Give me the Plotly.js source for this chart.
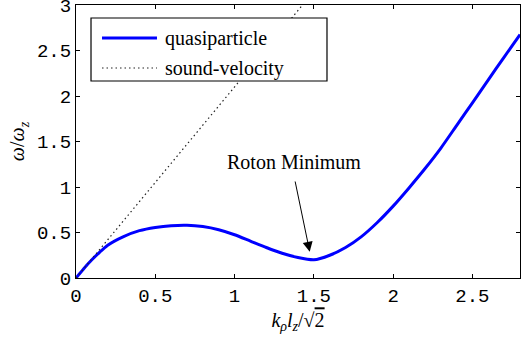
<!DOCTYPE html>
<html>
<head>
<meta charset="utf-8">
<script src="https://cdn.plot.ly/plotly-3.0.1.min.js"></script>
<style>html,body{margin:0;padding:0;background:#fff;} #chart{width:521px;height:339px;}</style>
</head>
<body>
<div id="chart"></div>
<script>
// Quasiparticle dispersion
const kValues = [0, 0.05, 0.1, 0.15, 0.2, 0.3, 0.4, 0.5, 0.6, 0.7, 0.8, 0.9, 1.0, 1.1, 1.2, 1.3, 1.4, 1.5, 1.6, 1.7, 1.8, 1.9, 2.0, 2.1, 2.2, 2.3, 2.4, 2.5, 2.6, 2.7, 2.8];
const omegaValues = [0, 0.105, 0.2, 0.285, 0.36, 0.455, 0.52, 0.555, 0.575, 0.58, 0.565, 0.53, 0.475, 0.405, 0.335, 0.272, 0.225, 0.2, 0.25, 0.335, 0.455, 0.61, 0.79, 0.99, 1.2, 1.425, 1.675, 1.925, 2.178, 2.428, 2.675];
// Sound-velocity line
const soundK = [0, 1.5];
const soundOmega = [0, 3.15];
// Series names (legend)
const seriesNames = ['quasiparticle', 'sound-velocity'];
// Tick labels
const xTicks = [0, 0.5, 1, 1.5, 2, 2.5];
const xTickText = ['0', '0.5', '1', '1.5', '2', '2.5'];
const yTicks = [0, 0.5, 1, 1.5, 2, 2.5, 3];
const yTickText = ['0', '0.5', '1', '1.5', '2', '2.5', '3'];
// Annotation
const annotText = 'Roton Minimum';
const arrowHead = [1.474, 0.289];
const arrowTail = [1.38, 1.077];
const annotPos = [1.372, 1.275];

const serif = '"Liberation Serif", "Times New Roman", serif';
const mono = '"Liberation Mono", "Courier New", monospace';
const blue = '#0000ff';
const dotColor = '#222';

const traces = [
  {x: kValues, y: omegaValues, type: 'scatter', mode: 'lines', name: seriesNames[0],
   line: {color: blue, width: 3, shape: 'spline', smoothing: 0.6}},
  {x: soundK, y: soundOmega, type: 'scatter', mode: 'lines', name: seriesNames[1],
   line: {color: dotColor, width: 1.2, dash: '1.5px,3px'}}
];

const axisCommon = {
  showline: true, linecolor: '#000', linewidth: 1, mirror: 'ticks',
  ticks: 'inside', ticklen: 4, tickcolor: '#000', tickwidth: 1,
  showgrid: false, zeroline: false, ticklabeloverflow: 'allow',
  tickfont: {family: mono, size: 19, color: '#000'}
};

// Legend box (drawn as paper-referenced shapes + text, matching the reference's legend layout)
const leg = {x0: 0.0338, x1: 0.5653, y0: 0.7216, y1: 0.9524, sx0: 0.0586, sx1: 0.1824, tx: 0.196, rows: [0.8791, 0.7692]};

const layout = {
  width: 521, height: 339,
  font: {family: serif, size: 19, color: '#000'},
  margin: {l: 76, r: 1, t: 5, b: 61},
  paper_bgcolor: '#fff', plot_bgcolor: '#fff',
  showlegend: false,
  xaxis: Object.assign({}, axisCommon, {range: [0, 2.8], tickvals: xTicks, ticktext: xTickText,
    title: {text: '<i>k</i><sub><i>ρ</i></sub><i>l</i><sub><i>z</i></sub>/√<span style="text-decoration:overline">2</span>', font: {family: serif, size: 20, color: '#000'}, standoff: 6}}),
  yaxis: Object.assign({}, axisCommon, {range: [0, 3], tickvals: yTicks, ticktext: yTickText,
    title: {text: '<i>ω</i>/<i>ω</i><sub><i>z</i></sub>', font: {family: serif, size: 20, color: '#000'}, standoff: 6}}),
  shapes: [
    {type: 'rect', xref: 'paper', yref: 'paper', x0: leg.x0, x1: leg.x1, y0: leg.y0, y1: leg.y1,
     fillcolor: '#fff', line: {color: '#000', width: 1.2}, layer: 'above'},
    {type: 'line', xref: 'paper', yref: 'paper', x0: leg.sx0, x1: leg.sx1, y0: leg.rows[0], y1: leg.rows[0],
     line: {color: blue, width: 3}, layer: 'above'},
    {type: 'line', xref: 'paper', yref: 'paper', x0: leg.sx0, x1: leg.sx1, y0: leg.rows[1], y1: leg.rows[1],
     line: {color: dotColor, width: 1.2, dash: '1.5px,3px'}, layer: 'above'}
  ],
  annotations: [
    {x: leg.tx, y: leg.rows[0], xref: 'paper', yref: 'paper', xanchor: 'left', yanchor: 'middle',
     text: seriesNames[0], showarrow: false, font: {family: serif, size: 20, color: '#000'}},
    {x: leg.tx, y: leg.rows[1], xref: 'paper', yref: 'paper', xanchor: 'left', yanchor: 'middle',
     text: seriesNames[1], showarrow: false, font: {family: serif, size: 20, color: '#000'}},
    {x: arrowHead[0], y: arrowHead[1], ax: arrowTail[0], ay: arrowTail[1], xref: 'x', yref: 'y', axref: 'x', ayref: 'y',
     text: '', showarrow: true, arrowhead: 2, arrowsize: 2, arrowwidth: 1, arrowcolor: '#000'},
    {x: annotPos[0], y: annotPos[1], xref: 'x', yref: 'y', text: annotText, showarrow: false,
     font: {family: serif, size: 20, color: '#000'}}
  ]
};

Plotly.newPlot('chart', traces, layout, {displayModeBar: false, staticPlot: true});
</script>
</body>
</html>
